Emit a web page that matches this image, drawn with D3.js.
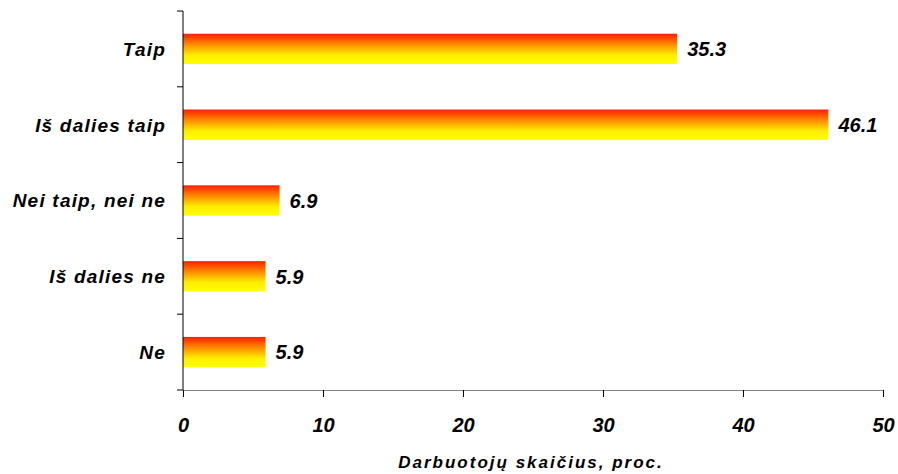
<!DOCTYPE html>
<html>
<head>
<meta charset="utf-8">
<script src="https://cdn.jsdelivr.net/npm/d3@7"></script>
<style>
  html, body { margin: 0; padding: 0; background: #fff; }
  text { font-family: "Liberation Sans", Arial, sans-serif; font-weight: bold; font-style: italic; fill: #000; }
</style>
</head>
<body>
<svg id="chart" width="898" height="474"></svg>
<script>
// Survey answers and share of employees (%)
const categories = ["Taip", "Iš dalies taip", "Nei taip, nei ne", "Iš dalies ne", "Ne"];
const values = [35.3, 46.1, 6.9, 5.9, 5.9];
const xTicks = [0, 10, 20, 30, 40, 50];
const xTitle = "Darbuotojų skaičius, proc.";

const svg = d3.select("#chart");
const margin = { left: 183, right: 15, top: 11, bottom: 84 };
const W = 898, H = 474;

const x = d3.scaleLinear().domain([0, 50]).range([margin.left, W - margin.right]);
const y = d3.scaleBand().domain(categories).range([margin.top, H - margin.bottom])
  .paddingInner(0.6).paddingOuter(0.3);

// Vertical red-to-yellow fill for bars
const grad = svg.append("defs").append("linearGradient")
  .attr("id", "barFill").attr("x1", 0).attr("y1", 0).attr("x2", 0).attr("y2", 1);
[[0, "#ff1e00"], [0.35, "#ff8a00"], [0.7, "#ffee00"], [1, "#ffff00"]].forEach(([o, c]) =>
  grad.append("stop").attr("offset", o).attr("stop-color", c));

svg.selectAll("rect.bar").data(categories).join("rect")
  .attr("class", "bar")
  .attr("x", x(0))
  .attr("y", d => y(d))
  .attr("width", (d, i) => x(values[i]) - x(0))
  .attr("height", y.bandwidth())
  .attr("fill", "url(#barFill)");

// Value labels
svg.selectAll("text.val").data(categories).join("text")
  .attr("class", "val")
  .attr("x", (d, i) => x(values[i]) + 10)
  .attr("y", d => y(d) + y.bandwidth() / 2)
  .attr("dy", "0.36em")
  .attr("font-size", 20)
  .text((d, i) => values[i].toFixed(1));

// X axis
const xAxis = svg.append("g")
  .attr("transform", `translate(0,${H - margin.bottom})`)
  .call(d3.axisBottom(x).tickValues(xTicks).tickSize(7).tickSizeOuter(0).tickPadding(0));
xAxis.select(".domain").attr("stroke", "#808080");
xAxis.selectAll(".tick line").attr("stroke", "#000");
xAxis.selectAll(".tick text")
  .attr("y", 42).attr("dy", null)
  .style("font-size", "20px")
  .style("font-family", "'Liberation Sans', Arial, sans-serif")
  .style("font-weight", "bold").style("font-style", "italic");

// Y axis: ticks sit on band boundaries, labels centred in bands
const yAxisG = svg.append("g");
yAxisG.append("line")
  .attr("x1", x(0)).attr("x2", x(0))
  .attr("y1", margin.top).attr("y2", H - margin.bottom)
  .attr("stroke", "#000");
const boundaries = d3.range(categories.length + 1).map(i => margin.top + i * (H - margin.bottom - margin.top) / categories.length);
yAxisG.selectAll("line.tk").data(boundaries).join("line")
  .attr("class", "tk")
  .attr("x1", x(0) - 6).attr("x2", x(0))
  .attr("y1", d => d).attr("y2", d => d)
  .attr("stroke", "#000");
yAxisG.selectAll("text").data(categories).join("text")
  .attr("x", x(0) - 17)
  .attr("y", d => y(d) + y.bandwidth() / 2)
  .attr("dy", "0.36em")
  .attr("text-anchor", "end")
  .attr("font-size", 19)
  .style("letter-spacing", "1.2px")
  .text(d => d);

// Axis title
svg.append("text")
  .attr("x", 531)
  .attr("y", 468)
  .attr("text-anchor", "middle")
  .attr("font-size", 17)
  .style("letter-spacing", "2px")
  .text(xTitle);
</script>
</body>
</html>
